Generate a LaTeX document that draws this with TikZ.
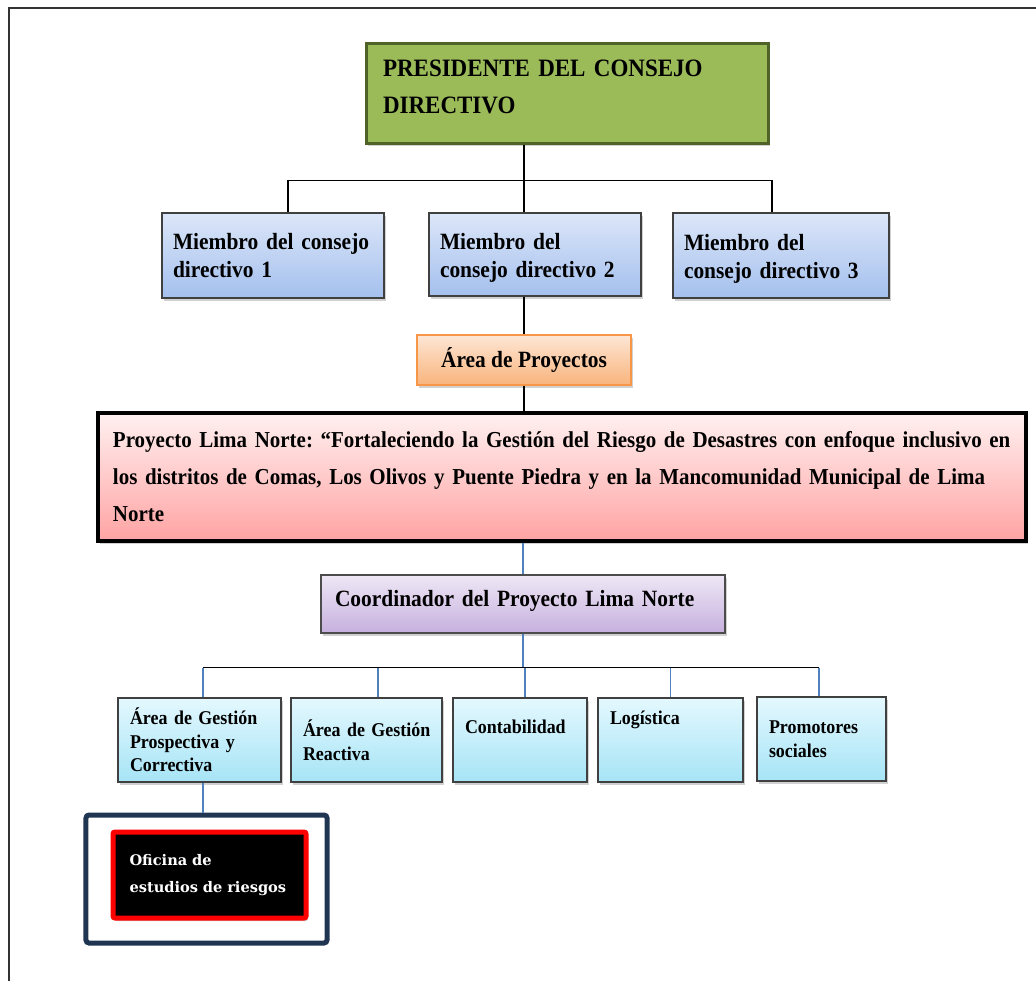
\documentclass[tikz,border=0pt]{standalone}
\usepackage{fontspec}
\setmainfont{Liberation Serif}[FakeStretch=0.92]
\newfontfamily\ofifont{DejaVu Serif}
\usetikzlibrary{shadows}
\frenchspacing
\hyphenpenalty=10000
\exhyphenpenalty=10000

\definecolor{presfill}{HTML}{9BBB59}
\definecolor{presline}{HTML}{4F6228}
\definecolor{memtop}{HTML}{DCE6F8}
\definecolor{membot}{HTML}{A4C0EE}
\definecolor{areatop}{HTML}{FDE6D5}
\definecolor{areabot}{HTML}{F9B47C}
\definecolor{arealine}{HTML}{F79646}
\definecolor{proytop}{HTML}{FFF0F0}
\definecolor{proybot}{HTML}{FFA3A3}
\definecolor{coordtop}{HTML}{EEE7F5}
\definecolor{coordbot}{HTML}{C6B0DE}
\definecolor{unittop}{HTML}{E4F8FE}
\definecolor{unitbot}{HTML}{A6E4F6}
\definecolor{navy}{HTML}{1F3552}
\definecolor{linkblue}{HTML}{4F81BD}

\begin{document}
\begin{tikzpicture}[x=1bp, y=-1bp,
  shadowed/.style={drop shadow={shadow xshift=2bp, shadow yshift=-3bp, opacity=.3, fill=black!60}},
  presbox/.style={draw=presline, line width=3bp, fill=presfill, shadowed, align=left,
    inner xsep=17bp, inner ysep=2bp, font=\bfseries\fontsize{25bp}{37bp}\selectfont},
  memberbox/.style={draw=black!75, line width=1.2bp, top color=memtop, bottom color=membot,
    shadowed, align=left, inner xsep=11bp, inner ysep=2bp,
    font=\bfseries\fontsize{23.3bp}{28bp}\selectfont},
  areabox/.style={draw=arealine, line width=1.2bp, top color=areatop, bottom color=areabot,
    shadowed, align=center, inner ysep=2bp, font=\bfseries\fontsize{23.3bp}{28bp}\selectfont},
  proybox/.style={draw=black, line width=4bp, top color=proytop, bottom color=proybot,
    shadowed, align=left, inner xsep=15bp, inner ysep=2bp,
    font=\bfseries\fontsize{22.8bp}{37bp}\selectfont},
  coordbox/.style={draw=black!70, line width=1.2bp, top color=coordtop, bottom color=coordbot,
    shadowed, align=left, inner xsep=14bp, inner ysep=2bp,
    font=\bfseries\fontsize{23.3bp}{28bp}\selectfont},
  unitbox/.style={draw=black!75, line width=1.2bp, top color=unittop, bottom color=unitbot,
    shadowed, align=left, inner xsep=12bp, inner ysep=2bp,
    font=\bfseries\fontsize{19.5bp}{23.5bp}\selectfont},
  conn/.style={draw=black, line width=1.3bp},
  blueconn/.style={draw=linkblue, line width=1.3bp}
]
\useasboundingbox (0,0) rectangle (1036,981);
\draw[line width=2bp, black!80] (1036,8) -- (9,8) -- (9,981);

% consejo directivo
\node[presbox, minimum width=402bp, minimum height=100bp, text width=368bp,
  text height=17bp, text depth=50bp]
  (pres) at (567,93) {PRESIDENTE DEL CONSEJO\\DIRECTIVO};
\node[memberbox, minimum width=222bp, minimum height=85bp, text width=200bp]
  (m1) at (273,255.5) {Miembro~del~consejo\\directivo 1};
\node[memberbox, minimum width=212bp, minimum height=83bp, text width=190bp, text depth=27bp]
  (m2) at (535,254.5) {Miembro del\\consejo~directivo~2};
\node[memberbox, minimum width=216bp, minimum height=85bp, text width=194bp, text depth=27bp]
  (m3) at (781,255.5) {Miembro del\\consejo~directivo~3};

% proyecto
\node[areabox, minimum width=214bp, minimum height=50bp] (area) at (524,360) {Área de Proyectos};
\node[proybox, minimum width=928bp, minimum height=128bp, text width=898bp]
  (proy) at (562,477) {Proyecto Lima Norte: “Fortaleciendo la Gestión del Riesgo de Desastres con enfoque inclusivo~en\\
  los distritos de Comas, Los Olivos y Puente Piedra y en la Mancomunidad Municipal de~Lima\\Norte};
\node[coordbox, minimum width=404bp, minimum height=58bp, text width=376bp, text depth=11bp]
  (coord) at (523,604) {Coordinador del Proyecto Lima Norte};

% areas del proyecto
\node[unitbox, minimum width=163bp, minimum height=84bp, text width=139bp]
  (g1) at (199.5,740) {Área de Gestión\\Prospectiva y\\Correctiva};
\node[unitbox, minimum width=151bp, minimum height=84bp, text width=127bp]
  (g2) at (366.5,740) {Área~de~Gestión\\Reactiva};
\node[unitbox, minimum width=134bp, minimum height=84bp, text width=110bp, text depth=26bp]
  (g3) at (520,740) {Contabilidad};
\node[unitbox, minimum width=145bp, minimum height=84bp, text width=121bp, text depth=44bp]
  (g4) at (670.5,740) {Logística};
\node[unitbox, minimum width=129bp, minimum height=84bp, text width=105bp]
  (g5) at (821.5,739) {Promotores\\sociales};

% oficina
\node[draw=navy, line width=5bp, rounded corners=3bp, minimum width=241bp, minimum height=128bp]
  (frame) at (206.5,879) {};
\node[draw=red, line width=5bp, fill=black, rounded corners=2bp, text=white, align=left,
  minimum width=193bp, minimum height=86bp, text width=160bp, inner ysep=2bp,
  font=\ofifont\bfseries\fontsize{14.6bp}{27bp}\selectfont, shadowed]
  (ofi) at (209.5,875) {Oficina de\\estudios~de~riesgos};

% conectores
\draw[conn] (pres.south -| area.north) -- ++(0,36) coordinate (bus1);
\draw[conn] ([xshift=15bp]m1.north) |- (bus1) -| ([xshift=-9bp]m3.north);
\draw[conn] (bus1) -- (m2.north -| bus1);
\draw[conn] (m2.south -| area.north) -- (area.north);
\draw[conn] (area.south) -- (proy.north -| area.south);
\draw[blueconn] (proy.south -| coord.north) -- (coord.north);
\draw[blueconn] (coord.south) -- ++(0,34) coordinate (bus2);
\draw[conn] ([xshift=3.5bp]g1.north |- bus2) -- ([xshift=-2.5bp]g5.north |- bus2);
\foreach \n/\dx in {g1/3.5, g2/11.5, g3/5, g4/0, g5/-2.5}
  \draw[blueconn] ([xshift=\dx bp]\n.north |- bus2) -- ([xshift=\dx bp]\n.north);
\draw[blueconn] ([xshift=3.5bp]g1.south) -- ([xshift=3.5bp]g1.south |- frame.north);
\end{tikzpicture}
\end{document}
